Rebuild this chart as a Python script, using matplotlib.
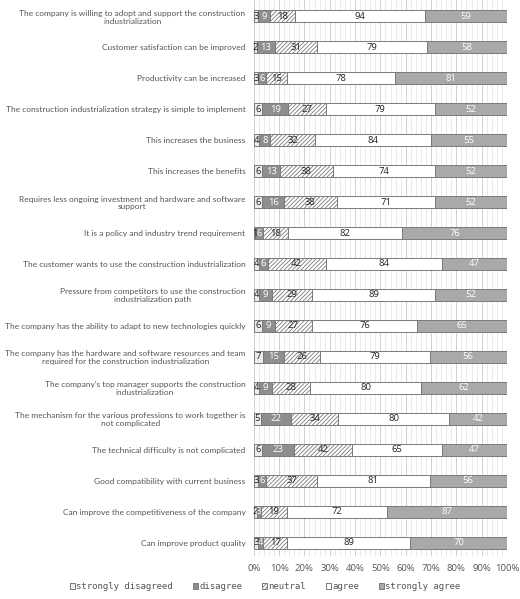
import numpy as np
import matplotlib
matplotlib.use('Agg')
import matplotlib.pyplot as plt
from matplotlib.ticker import MultipleLocator, PercentFormatter

# preguntas (de arriba a abajo)
items = [
    'The company is willing to adopt and support the construction\nindustrialization',
    'Customer satisfaction can be improved',
    'Productivity can be increased',
    'The construction industrialization strategy is simple to implement',
    'This increases the business',
    'This increases the benefits',
    'Requires less ongoing investment and hardware and software\nsupport',
    'It is a policy and industry trend requirement',
    'The customer wants to use the construction industrialization',
    'Pressure from competitors to use the construction\nindustrialization path',
    'The company has the ability to adapt to new technologies quickly',
    'The company has the hardware and software resources and team\nrequired for the construction industrialization',
    "The company's top manager supports the construction\nindustrialization",
    'The mechanism for the various professions to work together is\nnot complicated',
    'The technical difficulty is not complicated',
    'Good compatibility with current business',
    'Can improve the competitiveness of the company',
    'Can improve product quality',
]

strongly_disagreed = [3, 2, 3, 6, 4, 6, 6, 1, 4, 4, 6, 7, 4, 5, 6, 3, 2, 3]
disagree = [9, 13, 6, 19, 8, 13, 16, 6, 6, 9, 9, 15, 9, 22, 23, 6, 3, 4]
neutral = [18, 31, 15, 27, 32, 38, 38, 18, 42, 29, 27, 26, 28, 34, 42, 37, 19, 17]
agree = [94, 79, 78, 79, 84, 74, 71, 82, 84, 89, 76, 79, 80, 80, 65, 81, 72, 89]
strongly_agree = [59, 58, 81, 52, 55, 52, 52, 76, 47, 52, 65, 56, 62, 42, 47, 56, 87, 70]

series = [strongly_disagreed, disagree, neutral, agree, strongly_agree]
names = ['strongly disagreed', 'disagree', 'neutral', 'agree', 'strongly agree']
colores = ['#ececec', '#8e8e8e', '#ffffff', '#ffffff', '#a9a9a9']
hatches = [None, None, '////////', None, None]
txt_col = ['#222222', 'white', '#222222', '#222222', 'white']

plt.rcParams['hatch.linewidth'] = 0.6
plt.rcParams['hatch.color'] = '#444444'

data = np.array(series, dtype=float)
totals = data.sum(axis=0)
pct = data / totals * 100

fig = plt.figure(figsize=(5.2, 5.99), dpi=100)
ax = fig.add_axes([0.488, 0.072, 0.487, 0.928])

y = np.arange(len(items))
left = np.zeros(len(items))
handles = []
for k in range(5):
    b = ax.barh(y, pct[k], left=left, height=0.4, color=colores[k],
                edgecolor='#7a7a7a', linewidth=0.7, hatch=hatches[k],
                label=names[k], zorder=3)
    handles.append(b)
    for i in range(len(items)):
        ax.text(left[i] + pct[k][i] / 2, y[i], str(series[k][i]),
                ha='center', va='center', fontsize=6.8, color=txt_col[k],
                family='Open Sans', zorder=4)
    left += pct[k]

ax.set_ylim(len(items) - 0.58, -0.52)
ax.set_xlim(0, 100)
ax.set_yticks(y)
ax.set_yticklabels(items, fontsize=6.05, color='#555555', family='Lato',
                   multialignment='center', linespacing=1.15)
ax.tick_params(axis='y', length=0, pad=6)
ax.xaxis.set_major_locator(MultipleLocator(10))
ax.xaxis.set_minor_locator(MultipleLocator(2))
ax.xaxis.set_major_formatter(PercentFormatter(decimals=0))
ax.tick_params(axis='x', which='both', length=0, labelsize=6.8, colors='#555555', pad=6)
for lab in ax.get_xticklabels():
    lab.set_family('Open Sans')
ax.grid(axis='x', which='major', color='#d0d0d0', linewidth=0.7, zorder=0)
ax.grid(axis='x', which='minor', color='#e2e2e2', linewidth=0.5, zorder=0)
for s in ax.spines.values():
    s.set_visible(False)

leg = fig.legend(handles, names, loc='lower center', bbox_to_anchor=(0.51, 0.0),
                 ncol=5, frameon=False, handlelength=0.6, handleheight=0.6,
                 handletextpad=0.1, columnspacing=2.2,
                 prop={'family': 'DejaVu Sans Mono', 'size': 6.5})
for t in leg.get_texts():
    t.set_color('#555555')

fig.savefig('out.png', dpi=100)
